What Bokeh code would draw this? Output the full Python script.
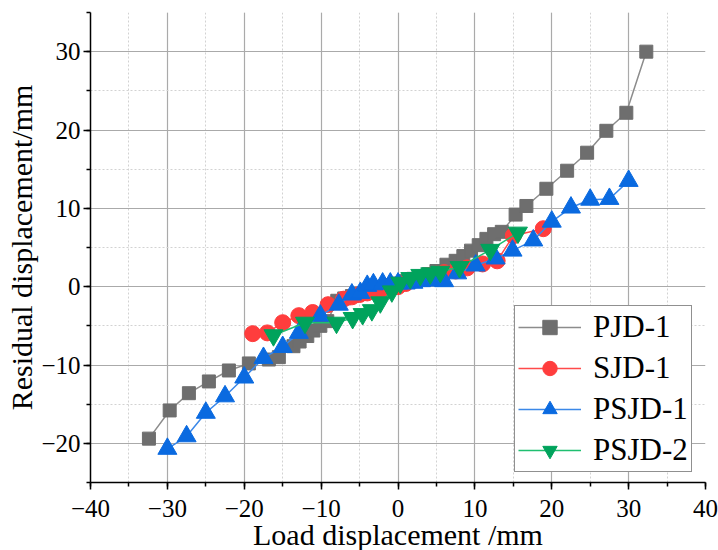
from bokeh.plotting import figure
from bokeh.models import (Range1d, SingleIntervalTicker, CustomJSTickFormatter,
                          Legend, LegendItem)
from bokeh.embed import file_html
from bokeh.resources import INLINE

# ---- data ----
pjd1_x = [-32.4, -29.7, -27.2, -24.6, -22.0, -19.4, -16.8, -15.5, -13.6, -12.8, -11.8, -11.0,
          -10.1, -9.2, -7.9, -7.0, -6.0, -5.0, -4.0, -3.0, -2.0, -1.0, 0.0, 1.0, 2.0, 3.0, 4.0,
          5.0, 6.3, 7.5, 8.5, 9.5, 10.5, 11.5, 12.5, 13.5, 15.3, 16.7, 19.3, 22.0, 24.6, 27.1,
          29.7, 32.3]
pjd1_y = [-19.4, -15.8, -13.6, -12.1, -10.7, -9.8, -9.3, -9.0, -7.6, -7.0, -6.3, -5.6,
          -5.0, -4.4, -1.8, -1.5, -1.2, -0.9, -0.6, -0.3, -0.1, 0.2, 0.4, 0.7, 1.0, 1.3, 1.6,
          2.0, 2.8, 3.3, 3.9, 4.6, 5.3, 6.1, 6.7, 7.0, 9.2, 10.3, 12.5, 14.8, 17.1, 19.9,
          22.2, 30.0]

sjd1_x = [-18.9, -17.0, -15.0, -12.9, -11.1, -9.1, -7.1, -6.0, -5.0, -4.0, -3.0, -2.0, -1.0,
          0.0, 1.0, 2.0, 3.0, 4.0, 5.0, 6.0, 7.5, 9.0, 11.0, 12.9, 15.0, 18.9]
sjd1_y = [-6.0, -5.9, -4.6, -3.7, -3.3, -2.3, -1.6, -1.3, -1.0, -0.8, -0.6, -0.4, -0.2,
          0.0, 0.4, 0.8, 1.1, 1.4, 1.6, 1.8, 2.0, 2.4, 2.9, 3.3, 6.5, 7.4]

psjd1_x = [-30.0, -27.5, -25.0, -22.5, -20.0, -17.5, -15.0, -12.9, -10.1, -7.7, -6.0, -4.9,
           -4.0, -3.2, -2.0, -1.0, 0.0, 1.0, 2.0, 3.0, 4.0, 5.0, 6.0, 7.7, 10.1, 12.7, 14.9,
           17.6, 20.0, 22.5, 25.0, 27.5, 30.0]
psjd1_y = [-20.7, -19.1, -16.1, -14.0, -11.6, -9.1, -7.7, -5.9, -3.7, -2.3, -1.0, -0.8,
           0.1, 0.3, 0.4, 0.4, 0.4, 0.4, 0.5, 0.7, 0.8, 0.8, 0.7, 1.7, 2.7, 3.6, 4.6,
           5.9, 8.3, 10.1, 11.1, 11.2, 13.5]

psjd2_x = [-16.2, -12.1, -8.0, -5.9, -4.6, -3.4, -2.3, -0.8, 0.3, 1.6, 2.9, 4.2, 5.5, 8.0,
           12.0, 15.6]
psjd2_y = [-6.2, -4.6, -4.6, -4.0, -3.5, -3.0, -2.0, -0.6, 0.5, 1.1, 1.5, 1.7, 1.9, 2.5,
           4.7, 6.9]

labels = ["PJD-1", "SJD-1", "PSJD-1", "PSJD-2"]
x_title = "Load displacement /mm"
y_title = "Residual displacement/mm"

FONT = "Liberation Serif"

p = figure(output_backend="svg", toolbar_location=None,
           frame_width=615, frame_height=470,
           min_border_left=90, min_border_top=12, min_border_right=13, min_border_bottom=68,
           x_range=Range1d(-40, 40), y_range=Range1d(-25, 35))
p.outline_line_color = None
p.background_fill_color = "white"
p.border_fill_color = "white"

minus_fmt = CustomJSTickFormatter(code="""
return tick < 0 ? '\u2212' + Math.abs(tick) : String(tick);
""")

p.xaxis.ticker = SingleIntervalTicker(interval=10, num_minor_ticks=2)
p.yaxis.ticker = SingleIntervalTicker(interval=10, num_minor_ticks=2)
for ax in (p.xaxis[0], p.yaxis[0]):
    ax.formatter = minus_fmt
    ax.axis_line_color = "black"
    ax.axis_line_width = 1.5
    ax.major_tick_line_color = "black"
    ax.major_tick_line_width = 1.5
    ax.minor_tick_line_color = "black"
    ax.minor_tick_line_width = 1.5
    ax.major_tick_in = 0
    ax.major_tick_out = 7
    ax.minor_tick_in = 0
    ax.minor_tick_out = 4
    ax.major_label_text_font = FONT
    ax.major_label_text_font_size = "25px"
    ax.major_label_text_color = "black"
    ax.axis_label_text_font = FONT
    ax.axis_label_text_font_size = "30px"
    ax.axis_label_text_font_style = "normal"
    ax.axis_label_text_color = "black"

p.xaxis.axis_label = x_title
p.yaxis.axis_label = y_title
p.xaxis.major_label_standoff = 10
p.xaxis.axis_label_standoff = -2
p.yaxis.major_label_standoff = 3
p.yaxis.axis_label_standoff = 0

for g in (p.xgrid[0], p.ygrid[0]):
    g.grid_line_color = "#aaaaaa"
    g.grid_line_width = 1.2
    g.minor_grid_line_color = "#d2d2d2"
    g.minor_grid_line_dash = "2 2"
    g.minor_grid_line_width = 1

series = [
    (pjd1_x, pjd1_y, "square", 13, "#6e6e6e", "#8c8c8c"),
    (sjd1_x, sjd1_y, "circle", 16, "#ff3d3d", "#ff4a4a"),
    (psjd1_x, psjd1_y, "triangle", 19, "#0a6ae0", "#3b88e8"),
    (psjd2_x, psjd2_y, "inverted_triangle", 19, "#00a35c", "#1fbf70"),
]

items = []
for (xs, ys, mk, sz, fc, lc), lab in zip(series, labels):
    ln = p.line(xs, ys, line_color=lc, line_width=1.5)
    sc = p.scatter(xs, ys, marker=mk, size=sz, fill_color=fc, line_color=fc, line_width=1)
    items.append(LegendItem(label=lab, renderers=[ln, sc]))

legend = Legend(items=items, location=(424, 10))
legend.label_text_font = FONT
legend.label_text_font_size = "31px"
legend.label_text_color = "black"
legend.glyph_width = 63
legend.glyph_height = 36
legend.label_height = 36
legend.label_standoff = 12
legend.spacing = 5
legend.padding = 3
legend.margin = 0
legend.border_line_color = "#222222"
legend.border_line_width = 1.2
legend.background_fill_alpha = 1.0
p.add_layout(legend, "center")

open("out.html", "w").write(file_html(p, INLINE))
